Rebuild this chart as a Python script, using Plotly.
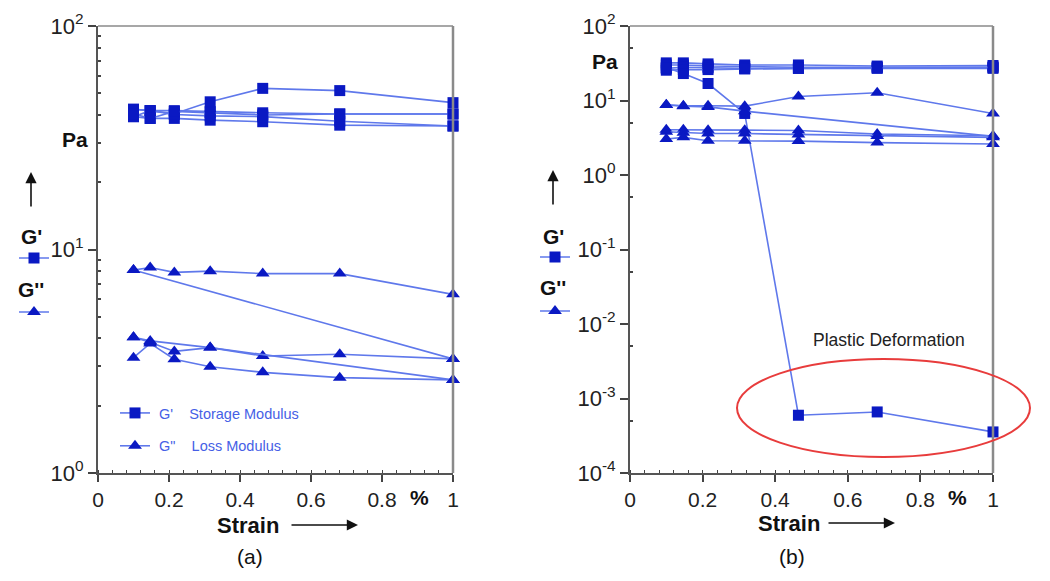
import plotly.graph_objects as go

# ---------------- data ----------------
STRAIN = [0.1, 0.147, 0.215, 0.316, 0.464, 0.681, 1.0]

# panel (a): storage modulus G' (Pa)
A_GP1 = [42.4, 41.8, 40.5, 45.8, 52.6, 51.4, 45.4]
A_GP2 = [42.4, 41.8, 41.8, 41.4, 40.9, 40.4, 40.4]
A_GP3 = [39.3, 38.6, 38.6, 37.9, 37.3, 36.0, 35.7]
A_GP4 = [39.3, 41.8, 40.2, 39.6, 39.3, 37.5, 35.7]
A_GP5 = [40.5, 38.6, 41.5, 41.0, 40.0, 40.4, 40.4]
# panel (a): loss modulus G'' (Pa)
A_GPP1 = [8.1, 8.3, 7.9, 8.0, 7.8, 7.8, 6.3]
A_GPP2 = [8.1, None, None, None, None, None, 3.24]
A_GPP3 = [4.05, 3.85, 3.5, 3.64, 3.34, 3.40, 3.24]
A_GPP4 = [3.28, 3.8, 3.23, 2.99, 2.82, 2.67, 2.61]
A_GPP5 = [4.05, 3.9, None, 3.64, None, None, 2.61]

# panel (b): storage modulus G' (Pa)
B_GP1 = [32, 32, 31, 30, 30, 29, 29.5]
B_GP2 = [30, 30, 29, 28.5, 28, 28, 28]
B_GP3 = [27, 28, 27.5, 27, 27, 27, 27]
B_GP4 = [25.5, 26, 26, 26.5, 27, 27.5, 28]
B_GP5 = [27.7, 23, 16.9, 6.7, 5.96e-4, 6.6e-4, 3.56e-4]
# panel (b): loss modulus G'' (Pa)
B_GPP1 = [8.75, 8.5, 8.5, 8.4, 11.3, 12.7, 6.7]
B_GPP2 = [8.7, 8.4, 8.2, 7.2, None, None, 3.3]
B_GPP3 = [4.05, 4.05, 4.0, 4.0, 3.95, 3.55, 3.36]
B_GPP4 = [3.8, 3.7, 3.6, 3.6, 3.5, 3.35, 3.2]
B_GPP5 = [3.04, 3.2, 2.88, 2.88, 2.85, 2.72, 2.61]

X_TICKS = [0, 0.2, 0.4, 0.6, 0.8, 1]
X_TICKTEXT = ["0", "0.2", "0.4", "0.6", "0.8", "1"]
A_YTICKS = [1, 10, 100]
A_YTICKTEXT = ["10<sup>0</sup>", "10<sup>1</sup>", "10<sup>2</sup>"]
B_YTICKS = [1e-4, 1e-3, 1e-2, 1e-1, 1, 10, 100]
B_YTICKTEXT = ["10<sup>-4</sup>", "10<sup>-3</sup>", "10<sup>-2</sup>", "10<sup>-1</sup>",
               "10<sup>0</sup>", "10<sup>1</sup>", "10<sup>2</sup>"]

# ---------------- style ----------------
# the page body has an 8px default margin, so the figure is sized to fit the window
OFF = 8
W, H = 1050 - OFF, 581 - OFF
FONT = "Liberation Sans, Arial, sans-serif"
LINE_C = "rgb(95,120,235)"
MARK_C = "rgb(10,25,195)"
TEXT_C = "rgb(70,95,230)"
AXIS_C = "#555555"
FRAME_C = "#8a8a8a"
NB = "\u00a0"


def px(x):
    """screen pixel x -> paper fraction"""
    return (x - OFF) / W


def py(y):
    """screen pixel y -> paper fraction"""
    return 1 - (y - OFF) / H


fig = go.Figure()


def add(yvals, xa, ya, sym, name="", legend=None, group=None):
    fig.add_trace(go.Scatter(
        x=STRAIN, y=yvals, xaxis=xa, yaxis=ya, mode="lines+markers",
        connectgaps=True, cliponaxis=False,
        line=dict(color=LINE_C, width=1.6),
        marker=dict(symbol=sym, size=11 if sym == "square" else 12, color=MARK_C),
        name=name, showlegend=legend is not None,
        legend=legend if legend else "legend",
        legendgroup=group, hoverinfo="x+y"))


# panel (a)
add(A_GP1, "x", "y", "square", NB + "G'" + NB * 4 + "Storage Modulus", "legend", "ga")
add(A_GP2, "x", "y", "square", " ", "legend2", "gb")
for s in (A_GP3, A_GP4, A_GP5):
    add(s, "x", "y", "square")
add(A_GPP1, "x", "y", "triangle-up", NB + "G\"" + NB * 4 + "Loss Modulus", "legend", "gc")
add(A_GPP2, "x", "y", "triangle-up", " ", "legend3", "gd")
for s in (A_GPP3, A_GPP4, A_GPP5):
    add(s, "x", "y", "triangle-up")

# panel (b)
add(B_GP1, "x2", "y2", "square", " ", "legend4", "ge")
for s in (B_GP2, B_GP3, B_GP4, B_GP5):
    add(s, "x2", "y2", "square")
add(B_GPP1, "x2", "y2", "triangle-up", " ", "legend5", "gf")
for s in (B_GPP2, B_GPP3, B_GPP4, B_GPP5):
    add(s, "x2", "y2", "triangle-up")

xcommon = dict(
    range=[0, 1], tickmode="array", tickvals=X_TICKS, ticktext=X_TICKTEXT,
    ticks="outside", ticklen=7, tickwidth=1.5, tickcolor="#444",
    showline=True, linecolor=AXIS_C, linewidth=2, showgrid=False, zeroline=False,
    tickfont=dict(family=FONT, size=21, color="#222"), automargin=False,
    minor=dict(ticks="inside", ticklen=3, tickwidth=1, tickcolor="#444", dtick=0.04, showgrid=False),
    fixedrange=True,
)
ycommon = dict(
    type="log", ticks="outside", ticklen=8, tickwidth=1.5, tickcolor="#444",
    showline=True, linecolor=AXIS_C, linewidth=2, showgrid=False, zeroline=False,
    tickfont=dict(family=FONT, size=22, color="#222"), tickmode="array",
    automargin=False, fixedrange=True,
)

A_DOM_X = [px(98), px(453)]
B_DOM_X = [px(630), px(993)]
DOM_Y = [py(473), py(26)]

small_legend = dict(xanchor="left", yanchor="middle", font=dict(size=6),
                    bgcolor="rgba(0,0,0,0)", itemclick=False, itemdoubleclick=False)

fig.update_layout(
    width=W, height=H, margin=dict(l=0, r=0, t=0, b=0, autoexpand=False),
    paper_bgcolor="white", plot_bgcolor="white",
    font=dict(family=FONT, color="#111"),
    xaxis=dict(domain=A_DOM_X, anchor="y", **xcommon),
    yaxis=dict(domain=DOM_Y, anchor="x", range=[0, 2], tickvals=A_YTICKS, ticktext=A_YTICKTEXT,
               minor=dict(ticks="inside", ticklen=3, tickcolor="#444",
                          tickvals=[2, 3, 4, 5, 6, 7, 8, 9, 20, 30, 40, 50, 60, 70, 80, 90]),
               **ycommon),
    xaxis2=dict(domain=B_DOM_X, anchor="y2", **xcommon),
    yaxis2=dict(domain=DOM_Y, anchor="x2", range=[-4, 2], tickvals=B_YTICKS, ticktext=B_YTICKTEXT,
                minor=dict(ticks="inside", ticklen=3, tickcolor="#444",
                           tickvals=[5e-4, 5e-3, 5e-2, 5e-1, 5, 50]),
                **ycommon),
    legend=dict(x=px(115), y=py(429.5), xanchor="left", yanchor="middle",
                font=dict(family=FONT, size=14.5, color=TEXT_C), bgcolor="rgba(0,0,0,0)",
                tracegroupgap=11, itemclick=False, itemdoubleclick=False),
    legend2=dict(x=px(14), y=py(258), **small_legend),
    legend3=dict(x=px(14), y=py(312), **small_legend),
    legend4=dict(x=px(535), y=py(257), **small_legend),
    legend5=dict(x=px(535), y=py(311), **small_legend),
    showlegend=True,
)

shapes = []
for xr, yr in (("x domain", "y domain"), ("x2 domain", "y2 domain")):
    shapes.append(dict(type="line", xref=xr, yref=yr, x0=0, x1=1, y0=1, y1=1,
                       line=dict(color=FRAME_C, width=1.5)))
    shapes.append(dict(type="line", xref=xr, yref=yr, x0=1, x1=1, y0=0, y1=1,
                       line=dict(color=FRAME_C, width=2.5)))
# red ellipse around plastic deformation points
shapes.append(dict(type="circle", xref="paper", yref="paper",
                   x0=px(737), x1=px(1030), y0=py(457), y1=py(359),
                   line=dict(color="rgb(232,60,60)", width=2)))
fig.update_layout(shapes=shapes)

ann = []


def text(x, y, t, size=20, bold=False, color="#111", xanchor="center"):
    ann.append(dict(x=px(x), y=py(y), xref="paper", yref="paper", showarrow=False,
                    text=f"<b>{t}</b>" if bold else t, xanchor=xanchor, yanchor="middle",
                    font=dict(family=FONT, size=size, color=color)))


def arrow(xh, yh, ax, ay):
    ann.append(dict(x=px(xh), y=py(yh), xref="paper", yref="paper", text="",
                    showarrow=True, ax=ax, ay=ay, arrowhead=2, arrowsize=1.4,
                    arrowwidth=1.6, arrowcolor="#111"))


# panel (a) labels
text(75, 139, "Pa", bold=True, size=21)
arrow(31, 172, 0, 36)
text(31, 237, "G'", bold=True, size=21)
text(31, 289, "G''", bold=True, size=21)
text(248, 525, "Strain", bold=True, size=22)
arrow(358, 525, -68, 0)
text(419, 497, "%", bold=True, size=21)
text(250, 556, "(a)", size=21)
# panel (b) labels
text(605, 62, "Pa", bold=True, size=21)
arrow(553, 170, 0, 36)
text(553, 237, "G'", bold=True, size=21)
text(553, 287, "G''", bold=True, size=21)
text(789, 523, "Strain", bold=True, size=22)
arrow(895, 523, -68, 0)
text(957, 497, "%", bold=True, size=21)
text(792, 556, "(b)", size=21)
text(889, 340, "Plastic Deformation", size=17.5, color="#222")

fig.update_layout(annotations=ann)

fig.write_html("out.html")
